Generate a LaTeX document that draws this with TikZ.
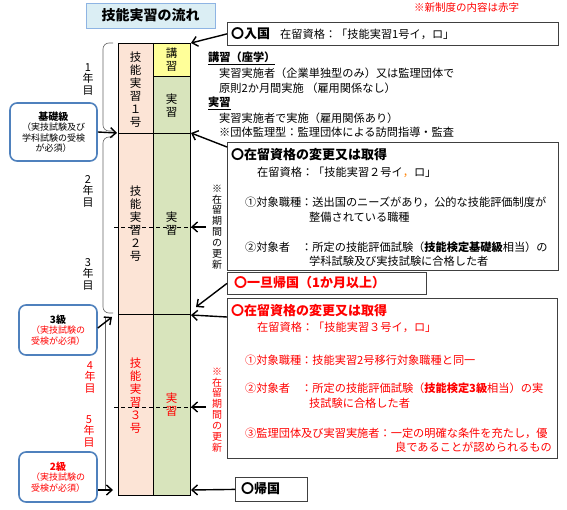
\documentclass[tikz,border=0pt]{standalone}
\usepackage{fontspec}
\setmainfont{Noto Sans CJK JP}
\usetikzlibrary{arrows.meta, positioning, calc}
\definecolor{peach}{HTML}{FCE4D6}
\definecolor{sage}{HTML}{D8E4BC}
\definecolor{lemon}{HTML}{FFFF99}
\definecolor{badgeblue}{HTML}{4F81BD}
\definecolor{titlefill}{HTML}{DBEEF4}
\definecolor{titledraw}{HTML}{8EB4E3}
\definecolor{newred}{HTML}{FF0000}
\definecolor{boxline}{HTML}{404040}

\tikzset{
  body/.style={anchor=west, inner sep=0pt, font=\fontsize{11.2}{13}\selectfont},
  head/.style={anchor=west, inner sep=0pt, font=\fontsize{13}{14}\selectfont\bfseries},
  vtext/.style={align=center, inner sep=0pt, font=\fontsize{11.5}{13}\selectfont},
  ytext/.style={align=center, inner sep=0pt, font=\fontsize{11}{11.5}\selectfont},
  renewtext/.style={align=center, inner sep=0pt, font=\fontsize{10}{10.9}\selectfont},
  infobox/.style={draw=boxline, line width=0.8pt, anchor=north west, inner sep=0pt},
  badge/.style={draw=badgeblue, line width=1.6pt, rounded corners=7pt, fill=white,
    align=center, inner sep=0pt, font=\fontsize{9}{10.5}\selectfont},
  flow/.style={-{Straight Barb[length=5.5pt,width=10pt,line width=1.4pt]}, line width=1.4pt},
  brace/.style={draw=black!60, line width=0.6pt, rounded corners=6pt},
  period/.style={line width=0.8pt, dash pattern=on 4pt off 3pt},
}

\begin{document}
\begin{tikzpicture}[x=1pt,y=-1pt]
  \useasboundingbox (0,0) rectangle (567,510);
  \node[draw=titledraw, fill=titlefill, line width=0.8pt, minimum width=129pt, minimum height=25pt,
    font=\fontsize{14}{16}\selectfont\bfseries] (title) at (150.5,15.5) {技能実習の流れ};
  \node[anchor=west, inner sep=0pt, text=newred, font=\fontsize{10.5}{12}\selectfont] (note) at (414,8) {※新制度の内容は赤字};

  % columns
  \fill[peach] (118,43) rectangle (153,495);
  \fill[lemon] (153,43) rectangle (190,76);
  \fill[sage] (153,76) rectangle (190,495);
  \draw[line width=0.8pt] (118,43) rectangle (190,495) (153,43) -- (153,495) (153,76) -- (190,76)
    (118,133) -- (190,133) (118,314) -- (190,314);
  \draw[period] (114,227) -- (192,227) (114,407) -- (192,407);
  \node[vtext] (grade1) at (135.5,90) {技\\能\\実\\習\\１\\号};
  \node[vtext] (grade2) at (135.5,224) {技\\能\\実\\習\\２\\号};
  \node[vtext, text=newred] (grade3) at (135.5,396) {技\\能\\実\\習\\３\\号};
  \node[vtext] (lecture) at (171.5,60) {講\\習};
  \node[vtext] (train1) at (171.5,106) {実\\習};
  \node[vtext] (train2) at (171.5,224) {実\\習};
  \node[vtext, text=newred] (train3) at (171.5,405) {実\\習};

  % years
  \draw[brace] (113,43) -- (103,43) -- (103,131) -- (113,131);
  \draw[brace] (113,137) -- (103,137) -- (103,313) -- (113,313);
  \draw[black!60, line width=0.6pt] (105,318) -- (105,490);
  \node[ytext] (year1) at (88,79) {1\\年\\目};
  \node[ytext] (year2) at (88,191) {2\\年\\目};
  \node[ytext] (year3) at (88,274) {3\\年\\目};
  \node[ytext, text=newred] (year4) at (90,377) {4\\年\\目};
  \node[ytext, text=newred] (year5) at (89,431) {5\\年\\目};

  % badges
  \node[badge, minimum width=87pt, minimum height=58pt] (basic) at (53.5,132)
    {{\fontsize{10}{12}\selectfont\bfseries 基礎級}\\（実技試験及び\\学科試験の受検\\が必須）};
  \node[badge, minimum width=78pt, minimum height=50pt] (level3) at (58,330)
    {{\fontsize{10}{12}\selectfont\bfseries 3級}\\\textcolor{newred}{（実技試験の}\\\textcolor{newred}{受検が必須）}};
  \node[badge, minimum width=78pt, minimum height=50pt, text=newred] (level2) at (58,477)
    {{\fontsize{10}{12}\selectfont\bfseries 2級}\\（実技試験の\\受検が必須）};
  \coordinate (lin1) at (117,133);
  \coordinate (lin3) at (112,317);
  \coordinate (lin2) at (113,490);
  \draw[flow] (basic.east) -- (lin1);
  \draw[flow] ([yshift=2pt]level3.east) -- (lin3);
  \draw[flow] ([yshift=-13pt]level2.east) -- (lin2);

  % entry
  \node[infobox, minimum width=331pt, minimum height=23pt] (entry) at (227,22) {};
  \node[head] (entryhd) at (231,34) {〇入国};
  \node[body] (entrytx) at (280,34) {在留資格：「技能実習1号イ，ロ」};
  \node[body, font=\fontsize{11.2}{13}\selectfont\bfseries] (lecthd) at (208,58) {\underline{講習（座学）}};
  \node[body] (lect1) at (219,73) {実習実施者（企業単独型のみ）又は監理団体で};
  \node[body] (lect2) at (219,88) {原則2か月間実施 （雇用関係なし）};
  \node[body, font=\fontsize{11.2}{13}\selectfont\bfseries] (trainhd) at (208,103) {\underline{実習}};
  \node[body] (train1tx) at (219,118) {実習実施者で実施（雇用関係あり）};
  \node[body] (train2tx) at (219,132) {※団体監理型：監理団体による訪問指導・監査};

  % second stage
  \node[infobox, minimum width=331pt, minimum height=128pt] (stay2) at (227,142) {};
  \node[head] (stay2hd) at (231,155) {〇在留資格の変更又は取得};
  \node[body] (stay2a) at (257,172) {在留資格：「技能実習２号イ{\color{orange}，}ロ」};
  \node[body] (stay2b) at (245,202) {①対象職種：送出国のニーズがあり，公的な技能評価制度が};
  \node[body] (stay2c) at (309,217) {整備されている職種};
  \node[body] (stay2d) at (245,247) {②対象者　：所定の技能評価試験（\textbf{技能検定基礎級}相当）の};
  \node[body] (stay2e) at (309,261) {学科試験及び実技試験に合格した者};
  \node[renewtext] (renew2) at (217,227) {※\\在\\留\\期\\間\\の\\更\\新};

  \node[infobox, minimum width=199pt, minimum height=22pt] (rehome) at (227,272) {};
  \node[head, text=newred] (rehometx) at (234,283) {〇一旦帰国（1か月以上）};

  % third stage
  \node[infobox, minimum width=330pt, minimum height=160pt] (stay3) at (227,298) {};
  \node[head, text=newred] (stay3hd) at (231,311) {〇在留資格の変更又は取得};
  \node[body, text=newred] (stay3a) at (257,327) {在留資格：「技能実習３号イ，ロ」};
  \node[body, text=newred] (stay3b) at (245,360) {①対象職種：技能実習2号移行対象職種と同一};
  \node[body, text=newred] (stay3c) at (245,388) {②対象者　：所定の技能評価試験（\textbf{技能検定3級}相当）の実};
  \node[body, text=newred] (stay3d) at (309,403) {技試験に合格した者};
  \node[body, text=newred] (stay3e) at (245,433) {③監理団体及び実習実施者：一定の明確な条件を充たし，優};
  \node[body, text=newred, anchor=east] (stay3f) at (552,447) {良であることが認められるもの};
  \node[renewtext, text=newred] (renew3) at (217,410) {※\\在\\留\\期\\間\\の\\更\\新};

  \node[infobox, minimum width=72pt, minimum height=24pt] (home) at (235,477) {};
  \node[head] (hometx) at (241,489) {〇帰国};

  % arrows into columns
  \coordinate (in1) at (191,43);
  \coordinate (in2) at (191,133);
  \coordinate (in2d) at (191,227);
  \coordinate (tail2d) at (206,227);
  \coordinate (inback) at (196,307);
  \coordinate (in3) at (191,315);
  \coordinate (in3d) at (191,407);
  \coordinate (tail3d) at (206,407);
  \coordinate (out) at (191,490);
  \draw[flow] (entry.west) -- (in1);
  \draw[flow] ($(stay2.north west)+(0,5)$) -- (in2);
  \draw[flow] (tail2d) -- (in2d);
  \draw[flow] (rehome.west) -- (inback);
  \draw[flow] ($(stay3.north west)+(0,19)$) -- (in3);
  \draw[flow] (tail3d) -- (in3d);
  \draw[flow] (home.west) -- (out);
\end{tikzpicture}
\end{document}
